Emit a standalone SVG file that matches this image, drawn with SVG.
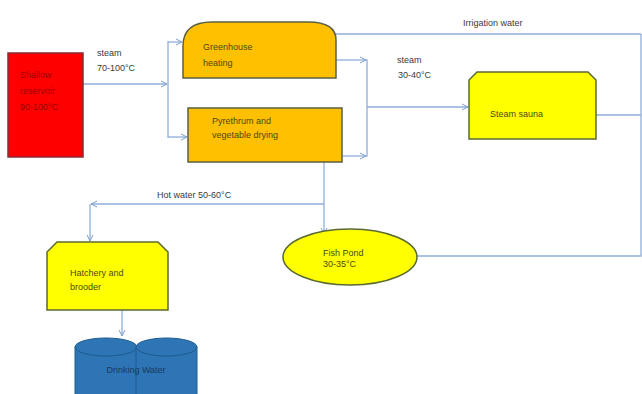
<svg xmlns="http://www.w3.org/2000/svg" width="642" height="394" viewBox="0 0 642 394">
<defs>
<marker id="ah" viewBox="0 0 8 8" refX="7" refY="4" markerWidth="8" markerHeight="8" markerUnits="userSpaceOnUse" orient="auto">
<path d="M1,1 L7,4 L1,7" fill="none" stroke="#7f9fc8" stroke-width="1"/>
</marker>
<style>
.c{fill:none;stroke:#8eaedb;stroke-width:1.3}
.t{font-family:"Liberation Sans",Arial,sans-serif;font-size:9px;fill:#3a3a3a}
.n{font-family:"Liberation Sans",Arial,sans-serif;font-size:9px;fill:#4a4a1a}
.org{fill:#ffc000;stroke:#5a6040;stroke-width:1.5}
.yel{fill:#ffff00;stroke:#5a6a30;stroke-width:1.5}
</style>
</defs>
<rect width="642" height="394" fill="#ffffff"/>
<g id="connectors">
<path class="c" d="M83,84 H167" marker-end="url(#ah)"/>
<path class="c" d="M168,41 V138"/>
<path class="c" d="M168,42 H182" marker-end="url(#ah)"/>
<path class="c" d="M168,137 H187" marker-end="url(#ah)"/>
<path class="c" d="M336,60 H366" marker-end="url(#ah)"/>
<path class="c" d="M342,156 H366" marker-end="url(#ah)"/>
<path class="c" d="M367,59 V157"/>
<path class="c" d="M367,107 H468" marker-end="url(#ah)"/>
<path class="c" d="M596,115 H641"/>
<path class="c" d="M417,256 H641 V34"/>
<path class="c" d="M641,34 H334"/>
<path class="c" d="M324,162 V234" marker-end="url(#ah)"/>
<path class="c" d="M324,204 H91" marker-end="url(#ah)"/>
<path class="c" d="M90,204 V241" marker-end="url(#ah)"/>
<path class="c" d="M122,310 V336" marker-end="url(#ah)"/>
</g>
<g id="labels">
<text class="t" x="97" y="56">steam</text>
<text class="t" x="97" y="71">70-100°C</text>
<text class="t" x="397" y="63">steam</text>
<text class="t" x="398" y="78">30-40°C</text>
<text class="t" x="463" y="26">Irrigation water</text>
<text class="t" x="157" y="198">Hot water 50-60°C</text>
</g>
<g id="reservoir">
<rect x="8" y="53" width="75" height="104" fill="#ff0000" stroke="#8a2a3a" stroke-width="1.5"/>
<text class="t" x="20" y="78" style="fill:#9a0000">Shallow</text>
<text class="t" x="20" y="94" style="fill:#9a0000">reservoir</text>
<text class="t" x="20" y="110" style="fill:#9a0000">90-100°C</text>
</g>
<g id="greenhouse">
<path class="org" d="M183,78 V46 Q183,22 212,22 H308 Q336,22 336,40 V78 Z"/>
<text class="n" x="203" y="50">Greenhouse</text>
<text class="n" x="203" y="66">heating</text>
</g>
<g id="pyrethrum">
<rect class="org" x="188" y="108" width="154" height="54"/>
<text class="n" x="212" y="124">Pyrethrum and</text>
<text class="n" x="212" y="138">vegetable drying</text>
</g>
<g id="sauna">
<path class="yel" d="M477,72 H588 L596,80 V139 H469 V80 Z"/>
<text class="n" x="490" y="117">Steam sauna</text>
</g>
<g id="fishpond">
<ellipse class="yel" cx="350" cy="257" rx="67" ry="28"/>
<text class="n" x="323" y="256">Fish Pond</text>
<text class="n" x="323" y="267">30-35°C</text>
</g>
<g id="hatchery">
<path class="yel" d="M57,242 H158 L168,252 V310 H47 V252 Z"/>
<text class="n" x="70" y="276">Hatchery and</text>
<text class="n" x="70" y="290">brooder</text>
</g>
<g id="drinking">
<path d="M75,347 V400 H137 V347 Z" fill="#2e75b6" stroke="#1f5a8f" stroke-width="1"/>
<ellipse cx="106" cy="347" rx="31" ry="9" fill="#2e75b6" stroke="#1f5a8f" stroke-width="1"/>
<path d="M136,347 V400 H197 V347 Z" fill="#2e75b6" stroke="#1f5a8f" stroke-width="1"/>
<ellipse cx="166.5" cy="347" rx="30.5" ry="9" fill="#2e75b6" stroke="#1f5a8f" stroke-width="1"/>
<text class="t" x="136" y="373" text-anchor="middle" style="fill:#1a3a5a">Drinking Water</text>
</g>
</svg>
